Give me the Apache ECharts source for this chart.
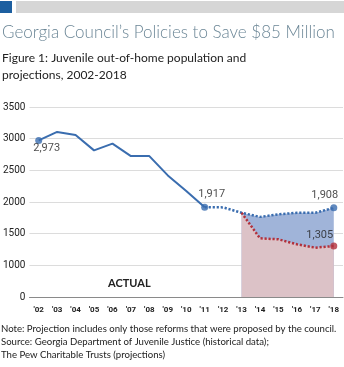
<!DOCTYPE html>
<html>
<head>
<meta charset="utf-8">
<script src="https://cdn.jsdelivr.net/npm/echarts@6/dist/echarts.min.js"></script>
<style>
  html, body { margin: 0; padding: 0; background: #fff; }
  #chart { width: 344px; height: 367px; }
</style>
</head>
<body>
<div id="chart"></div>
<script>
// Years shown on the category axis
const years = ['02','03','04','05','06','07','08','09','10','11','12','13','14','15','16','17','18'];
const yearLabels = years.map(y => "'" + y);

// Actual juvenile out-of-home population, 2002-2011
const actual = [2973, 3106, 3058, 2815, 2921, 2725, 2725, 2420, 2175, 1917];

// Baseline projection (no reforms), 2011-2018
const projectedBase = [1917, 1915, 1830, 1765, 1805, 1830, 1830, 1908];

// Projection with the council's reforms, 2013-2018
const projectedReform = [1830, 1427, 1411, 1332, 1279, 1305];

// Value-axis ticks; the lowest tick is printed as 0
const yTicks = [500, 1000, 1500, 2000, 2500, 3000, 3500];

// Place a partial series at its starting year
function alignTo(startYear, values) {
  const start = years.indexOf(startYear);
  return years.map((_, i) => (i >= start && i - start < values.length) ? values[i - start] : null);
}

const actualData = alignTo('02', actual);
const baseLineData = alignTo('11', projectedBase);
const baseAreaData = alignTo('13', projectedBase.slice(2));
const reformData = alignTo('13', projectedReform);

const BLUE = '#3a6daf';
const RED = '#b2313c';
const FONT = 'Roboto, "Noto Sans", sans-serif';

function endMark(data, idx) {
  return data.map((v, i) => (i === idx ? v : null));
}

const chart = echarts.init(document.getElementById('chart'), null, { renderer: 'canvas' });

chart.setOption({
  animation: false,
  backgroundColor: '#fff',
  grid: { left: 25, right: 1, top: 107, bottom: 70 },
  xAxis: {
    type: 'category',
    data: yearLabels,
    boundaryGap: true,
    axisLine: { show: true, lineStyle: { color: '#8a8a8a', width: 1 } },
    axisTick: { show: false },
    axisLabel: {
      color: '#222', fontSize: 8, fontWeight: 'bold', fontFamily: FONT,
      margin: 9, interval: 0, hideOverlap: false
    }
  },
  yAxis: {
    type: 'value',
    min: yTicks[0],
    max: yTicks[yTicks.length - 1],
    interval: 500,
    axisLine: { show: false },
    axisTick: { show: false },
    splitLine: { lineStyle: { color: '#dcdcdc', width: 1 } },
    axisLabel: {
      color: '#222', fontSize: 10, fontFamily: FONT, margin: 4,
      formatter: v => (v === yTicks[0] ? '0' : String(v))
    }
  },
  series: [
    {
      // band between the two projections
      type: 'line', data: baseAreaData, symbol: 'none', z: 1,
      lineStyle: { width: 0 },
      areaStyle: { color: '#a0b4d9', opacity: 1, origin: 'start' }
    },
    {
      // projected-with-reforms area
      type: 'line', data: reformData, symbol: 'none', z: 2,
      lineStyle: { width: 0 },
      areaStyle: { color: '#dcc2c7', opacity: 1, origin: 'start' }
    },
    {
      type: 'line', data: actualData, symbol: 'none', z: 5,
      lineStyle: { color: BLUE, width: 2 }
    },
    {
      type: 'line', data: baseLineData, symbol: 'none', z: 5,
      lineStyle: { color: BLUE, width: 2.5, type: [2.2, 1.8], cap: 'butt' }
    },
    {
      type: 'line', data: reformData, symbol: 'none', z: 5,
      lineStyle: { color: RED, width: 2.5, type: [2.2, 1.8], cap: 'butt' }
    },
    {
      // endpoint markers and value labels, blue
      type: 'scatter', z: 6, symbolSize: 7, itemStyle: { color: BLUE },
      data: actualData.map((v, i) => (i === 0 || i === 9 ? v : (i === 16 ? baseLineData[16] : null))),
      label: {
        show: true, color: '#222', fontSize: 11, fontFamily: FONT,
        formatter: p => p.value.toLocaleString('en-US'),
        position: 'top', distance: 4
      },
      labelLayout: p => (p.dataIndex === 0 ? { dx: 8, dy: 21 } : (p.dataIndex === 16 ? { dx: -9 } : { dx: 7 }))
    },
    {
      type: 'scatter', z: 6, symbolSize: 7, itemStyle: { color: RED },
      data: endMark(reformData, 16),
      label: {
        show: true, color: '#222', fontSize: 11, fontFamily: FONT,
        formatter: p => p.value.toLocaleString('en-US'),
        position: 'top', distance: 4
      },
      labelLayout: { dx: -14, dy: 2 }
    }
  ],
  graphic: [
    { type: 'rect', shape: { x: 0, y: 1, width: 12, height: 12 }, style: { fill: '#1d5fa0' } },
    { type: 'rect', shape: { x: 16, y: 1, width: 328, height: 12 }, style: { fill: '#d6d6d6' } },
    { type: 'text', left: 2, top: 24, style: { text: 'Georgia Council\u2019s Policies to Save $85 Million', fill: '#6b8696', font: '300 17px Lato, "Open Sans", sans-serif' } },
    { type: 'text', left: 2, top: 50, style: { text: 'Figure 1: Juvenile out-of-home population and\nprojections, 2002-2018', fill: '#222', font: '12px Lato, "Open Sans", sans-serif', lineHeight: 17 } },
    { type: 'text', left: 108, top: 278, style: { text: 'ACTUAL', fill: '#222', font: 'bold 11px Lato, sans-serif' } },
    { type: 'text', left: 258, top: 278, style: { text: 'PROJECTED', fill: '#222', font: '11px Lato, sans-serif' } },
    { type: 'text', left: 1, top: 322, style: { text: 'Note: Projection includes only those reforms that were proposed by the council.\nSource: Georgia Department of Juvenile Justice (historical data);\nThe Pew Charitable Trusts (projections)', fill: '#222', font: '9.6px Lato, sans-serif', lineHeight: 13 } }
  ]
});
</script>
</body>
</html>
